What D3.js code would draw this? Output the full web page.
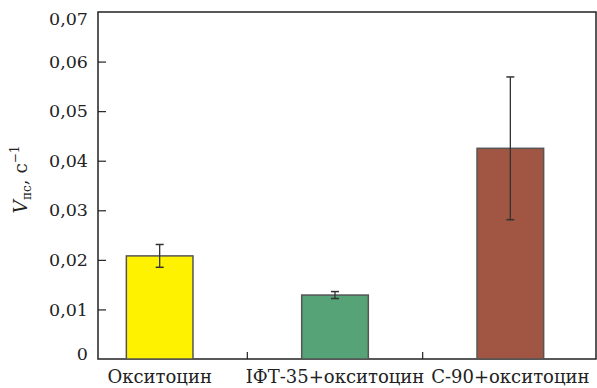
<!DOCTYPE html>
<html>
<head>
<meta charset="utf-8">
<script src="https://cdn.jsdelivr.net/npm/d3@7"></script>
<style>
  body { margin: 0; background: #fff; }
  svg { font-family: "DejaVu Serif", "Liberation Serif", serif; }
</style>
</head>
<body>
<svg width="597" height="388"></svg>
<script>
// data
var categories = ["Окситоцин", "ІФТ-35+окситоцин", "С-90+окситоцин"];
var values = [0.0208, 0.0129, 0.0425];
var errors = [0.0023, 0.0007, 0.0144];
var barColors = ["#fff200", "#55a377", "#a05642"];
var yTicks = [0, 0.01, 0.02, 0.03, 0.04, 0.05, 0.06, 0.07];

var svg = d3.select("svg");
// plot frame (note: "top" is taken by window.top)
var pLeft = 98, pRight = 596, pTop = 12, pBottom = 359;

var x = d3.scaleBand().domain(categories).range([72, 598]).paddingInner(0.62).paddingOuter(0.31);
var y = d3.scaleLinear().domain([0, 0.07]).range([pBottom, pTop]);

var fmt = function(d) { return d === 0 ? "0" : d3.format(".2f")(d).replace(".", ","); };

// frame
svg.append("rect")
    .attr("x", pLeft).attr("y", pTop)
    .attr("width", pRight - pLeft).attr("height", pBottom - pTop)
    .attr("fill", "none").attr("stroke", "#222").attr("stroke-width", 1.5);

// y axis, ticks pointing inward
var yAxis = svg.append("g")
    .attr("transform", "translate(" + pLeft + ",0)")
    .call(d3.axisLeft(y).tickValues(yTicks).tickSizeInner(-8).tickSizeOuter(0).tickPadding(10).tickFormat(fmt));
yAxis.select(".domain").remove();
yAxis.selectAll(".tick line").attr("stroke", "#222").attr("stroke-width", 1.2)
    .filter(function(d) { return d === 0 || d === 0.07; }).remove();
yAxis.selectAll(".tick text")
    .attr("font-size", 17.5).attr("fill", "#222").attr("font-family", "DejaVu Serif")
    .attr("dy", function(d) { return d === 0.07 ? "0.7em" : d === 0 ? "0" : "0.32em"; });

// separators on the x axis between groups
var sep = categories.slice(1).map(function(c) { return x(c) - x.step() * x.paddingInner() / 2; });
svg.selectAll(".sep").data(sep).enter().append("line")
    .attr("x1", function(d) { return d; }).attr("x2", function(d) { return d; })
    .attr("y1", pBottom).attr("y2", pBottom - 7)
    .attr("stroke", "#222").attr("stroke-width", 1.2);

// bars
svg.selectAll(".bar").data(values).enter().append("rect")
    .attr("x", function(d, i) { return x(categories[i]); })
    .attr("y", function(d) { return y(d); })
    .attr("width", x.bandwidth())
    .attr("height", function(d) { return pBottom - y(d); })
    .attr("fill", function(d, i) { return barColors[i]; })
    .attr("stroke", "#555").attr("stroke-width", 1.5);

// error bars
var eb = svg.selectAll(".err").data(values).enter().append("g")
    .attr("transform", function(d, i) { return "translate(" + (x(categories[i]) + x.bandwidth() / 2) + ",0)"; });
eb.append("line")
    .attr("y1", function(d, i) { return y(d + errors[i]); })
    .attr("y2", function(d, i) { return y(d - errors[i]); })
    .attr("stroke", "#333").attr("stroke-width", 1.3);
eb.append("line")
    .attr("x1", -4).attr("x2", 4)
    .attr("y1", function(d, i) { return y(d + errors[i]); })
    .attr("y2", function(d, i) { return y(d + errors[i]); })
    .attr("stroke", "#333").attr("stroke-width", 1.5);
eb.append("line")
    .attr("x1", -4).attr("x2", 4)
    .attr("y1", function(d, i) { return y(d - errors[i]); })
    .attr("y2", function(d, i) { return y(d - errors[i]); })
    .attr("stroke", "#333").attr("stroke-width", 1.5);

// category labels
svg.selectAll(".cat").data(categories).enter().append("text")
    .attr("x", function(d) { return x(d) + x.bandwidth() / 2; })
    .attr("y", 383)
    .attr("text-anchor", "middle")
    .attr("font-size", 18).attr("fill", "#222")
    .text(function(d) { return d; });

// y label
var yl = svg.append("text")
    .attr("transform", "translate(27," + ((pTop + pBottom) / 2 - 6) + ") rotate(-90)")
    .attr("text-anchor", "middle")
    .attr("font-size", 18.5).attr("fill", "#222");
yl.append("tspan").attr("font-style", "italic").text("V");
yl.append("tspan").attr("font-size", 12).attr("dy", 4).text("пс");
yl.append("tspan").attr("dy", -4).text(", с");
yl.append("tspan").attr("font-size", 12).attr("dy", -8).text("−1");
</script>
</body>
</html>
